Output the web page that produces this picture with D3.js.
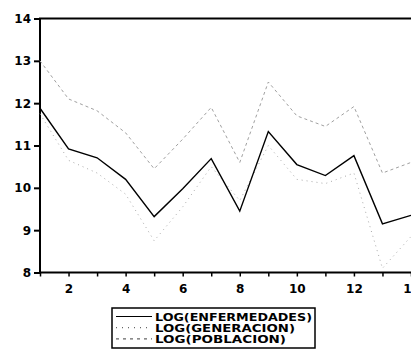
<!DOCTYPE html>
<html>
<head>
<script src="https://d3js.org/d3.v7.min.js"></script>
<style>
  body { margin: 0; background: #fff; }
  svg text { font-family: "DejaVu Sans", "Liberation Sans", Arial, sans-serif; font-weight: bold; fill: #000; }
  .frame { stroke: #000; stroke-width: 2px; fill: none; }
</style>
</head>
<body>
<script>
// observaciones 1..14
var obs = [1, 2, 3, 4, 5, 6, 7, 8, 9, 10, 11, 12, 13, 14];
var enfermedades = [11.88, 10.92, 10.71, 10.2, 9.32, 9.98, 10.69, 9.45, 11.33, 10.55, 10.29, 10.76, 9.15, 9.35];
var generacion   = [11.75, 10.65, 10.35, 9.85, 8.75, 9.55, 10.5, 9.7, 11.0, 10.2, 10.1, 10.35, 8.1, 8.85];
var poblacion    = [13.0, 12.1, 11.82, 11.3, 10.45, 11.15, 11.9, 10.6, 12.5, 11.7, 11.45, 11.92, 10.35, 10.6];
var yTicks = [8, 9, 10, 11, 12, 13, 14];
var xLabels = [2, 4, 6, 8, 10, 12, 14];
var seriesNames = ["LOG(ENFERMEDADES)", "LOG(GENERACION)", "LOG(POBLACION)"];

var W = 411, H = 358;
var margin = {top: 18.5, left: 40, bottom: 272.5, right: 411};

var svg = d3.select("body").append("svg").attr("width", W).attr("height", H);

var x = d3.scaleLinear().domain([1, 14]).range([margin.left, margin.right]);
var y = d3.scaleLinear().domain([8, 14]).range([margin.bottom, margin.top]);

// marco: arriba, izquierda, abajo
svg.append("path").attr("class", "frame")
  .attr("d", "M" + x(14) + "," + y(14) + "H" + x(1) + "V" + y(8) + "H" + x(14));

// eje y
var yAxis = svg.append("g")
  .attr("transform", "translate(" + x(1) + ",0)")
  .call(d3.axisLeft(y).tickValues(yTicks).tickSize(6).tickPadding(3).tickFormat(d3.format("d")));
yAxis.select(".domain").remove();
yAxis.selectAll("line").attr("stroke-width", 2);
yAxis.selectAll("text").style("font-size", "12px");

// eje x: ticks en cada entero, etiquetas en pares
var xAxis = svg.append("g")
  .attr("transform", "translate(0," + y(8) + ")")
  .call(d3.axisBottom(x).tickValues(obs).tickSize(4).tickPadding(8)
    .tickFormat(function(d) { return xLabels.indexOf(d) >= 0 ? d : ""; }));
xAxis.select(".domain").remove();
xAxis.selectAll("line").attr("stroke-width", 1.5);
xAxis.selectAll("text").style("font-size", "12px");

var line = d3.line()
  .x(function(d, i) { return x(obs[i]); })
  .y(function(d) { return y(d); });

svg.append("path").datum(poblacion)
  .attr("fill", "none").attr("stroke", "#a0a0a0").attr("stroke-width", 1)
  .attr("stroke-dasharray", "3,3").attr("d", line);
svg.append("path").datum(generacion)
  .attr("fill", "none").attr("stroke", "#aaaaaa").attr("stroke-width", 1)
  .attr("stroke-dasharray", "1,4").attr("d", line);
svg.append("path").datum(enfermedades)
  .attr("fill", "none").attr("stroke", "#000").attr("stroke-width", 1.4).attr("d", line);

// leyenda
var lg = svg.append("g").attr("transform", "translate(112,308)");
lg.append("rect").attr("width", 203).attr("height", 40)
  .attr("fill", "#fff").attr("stroke", "#000").attr("stroke-width", 1.5);
var styles = [
  {stroke: "#000", dash: null, w: 1.2},
  {stroke: "#666", dash: "1,5", w: 1.2},
  {stroke: "#666", dash: "3,4", w: 1.2}
];
var textLens = [157, 140, 131];
seriesNames.forEach(function(name, i) {
  var cy = 8.5 + i * 11.2;
  lg.append("line").attr("x1", 4).attr("x2", 40).attr("y1", cy).attr("y2", cy)
    .attr("stroke", styles[i].stroke).attr("stroke-width", styles[i].w)
    .attr("stroke-dasharray", styles[i].dash);
  lg.append("text").attr("x", 43).attr("y", cy + 4)
    .attr("textLength", textLens[i]).attr("lengthAdjust", "spacingAndGlyphs")
    .style("font-size", "10px").text(name);
});
</script>
</body>
</html>
